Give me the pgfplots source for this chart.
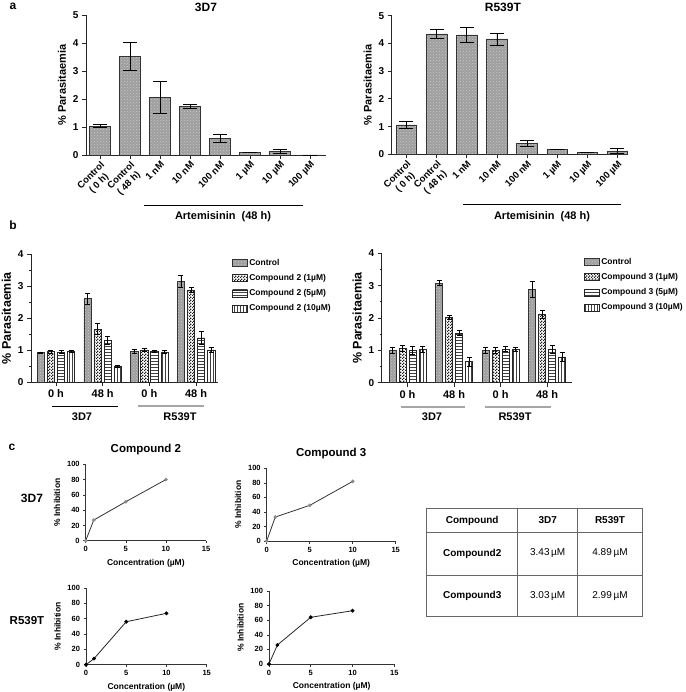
\documentclass[border=0pt]{standalone}
\usepackage{pgfplots}
\pgfplotsset{compat=1.18}
\usepackage{fontspec}
\setmainfont{Liberation Sans}
\usetikzlibrary{patterns}

\newcommand{\fs}[1]{\fontsize{#1}{#1}\selectfont}

\pgfdeclarepatternformonly{finecheck}{\pgfqpoint{0pt}{0pt}}{\pgfqpoint{3pt}{3pt}}{\pgfqpoint{3pt}{3pt}}{%
  \pgfpathrectangle{\pgfqpoint{0pt}{0pt}}{\pgfqpoint{1.5pt}{1.5pt}}%
  \pgfpathrectangle{\pgfqpoint{1.5pt}{1.5pt}}{\pgfqpoint{1.5pt}{1.5pt}}%
  \pgfusepath{fill}}

\pgfplotsset{
  panel/.style={
    scale only axis, anchor=south west, clip=false,
    axis lines=left,
    axis line style={-, black!85, line width=0.9pt},
    tick style={black!85, line width=0.8pt},
    major tick length=4pt, minor tick length=2pt,
    tick align=outside,
    /pgf/number format/assume math mode=true,
    ticklabel style={font=\bfseries\fs{10}},
    label style={font=\bfseries\fs{11}},
    title style={font=\bfseries\fs{12}, anchor=center, yshift=2pt},
  },
  rotlab/.style={
    xtick={0,...,7},
    xticklabels={{Control\\( 0 h)},{Control\\( 48 h)},1 nM,10 nM,100 nM,1 µM,10 µM,100 µM},
    xticklabel style={rotate=45, anchor=north east, align=center,
      font=\bfseries\fontsize{9.5}{11}\selectfont, inner sep=1pt},
  },
  errs/.style={
    error bars/y dir=both, error bars/y explicit,
    error bars/error bar style={black, line width=0.7pt},
    error bars/error mark options={rotate=90, black, line width=0.7pt, mark size=#1},
  },
  ctrl/.style={fill=black!38, draw=black!80, line width=0.6pt,
    postaction={pattern=crosshatch dots, pattern color=black!20}},
  cA/.style={draw=black!85, line width=0.6pt, pattern=finecheck, pattern color=black!90},
  cB/.style={draw=black!85, line width=0.6pt, pattern=horizontal lines, pattern color=black!75},
  cC/.style={draw=black!85, line width=0.6pt, pattern=vertical lines, pattern color=black!75},
  legb/.style={
    legend style={at={(#1)}, anchor=north west, draw=none, fill=none,
      inner sep=0pt, font=\bfseries\fs{8.5}, row sep=4.5pt, nodes={inner sep=1.5pt}},
    legend cell align=left,
    legend image code/.code={\draw[##1,/tikz/.cd] (0pt,-3.5pt) rectangle (15pt,3.5pt);},
  },
  curve/.style={
    scale only axis, anchor=south west, clip=false,
    axis lines=left, axis line style={-, black!80, line width=0.7pt},
    tick style={black!80, line width=0.6pt},
    major tick length=2.5pt, tick align=outside,
    /pgf/number format/assume math mode=true,
    ticklabel style={font=\bfseries\fs{7.5}},
    label style={font=\bfseries\fs{8.5}},
    title style={font=\bfseries\fs{11.5}},
    xmin=0, xmax=15, ymin=0, ymax=100,
    xtick={0,5,10,15}, ytick={0,20,...,100},
    xlabel={Concentration (µM)}, ylabel={\% Inhibition},
  },
}

\begin{document}
\begin{tikzpicture}
\path[use as bounding box] (0pt,0pt) rectangle (685pt,-692pt);

% ---------- panel a ----------
\begin{axis}[panel, rotlab, at={(86pt,-155pt)}, width=240pt, height=140pt,
  xmin=-0.47, xmax=7.53, ymin=0, ymax=5, ytick={0,...,5},
  ylabel={\% Parasitaemia}, title={3D7}]
\addplot[ybar, bar width=0.7, bar shift=0pt, ctrl, errs=7pt] coordinates {
  (0,1.03) +- (0,0.05) (1,3.51) +- (0,0.50) (2,2.05) +- (0,0.58) (3,1.73) +- (0,0.08)
  (4,0.60) +- (0,0.15) (5,0.10) +- (0,0.0) (6,0.14) +- (0,0.07) (7,0) +- (0,0)};
\end{axis}

\begin{axis}[panel, rotlab, at={(391.7pt,-154.3pt)}, width=236.3pt, height=138.6pt,
  xmin=-0.49, xmax=7.35, ymin=0, ymax=5, ytick={0,...,5},
  ylabel={\% Parasitaemia}, title={R539T}, title style={xshift=-7pt}]
\addplot[ybar, bar width=0.68, bar shift=0pt, ctrl, errs=7pt] coordinates {
  (0,1.06) +- (0,0.12) (1,4.34) +- (0,0.15) (2,4.31) +- (0,0.27) (3,4.16) +- (0,0.22)
  (4,0.40) +- (0,0.12) (5,0.18) +- (0,0.0) (6,0.08) +- (0,0.0) (7,0.12) +- (0,0.08)};
\end{axis}

\draw[black, line width=0.9pt] (144pt,-205pt) -- (303pt,-205pt);
\node[font=\bfseries\fs{11}] at (223pt,-217pt) {Artemisinin\ \ (48 h)};
\draw[black, line width=0.9pt] (463pt,-204pt) -- (621pt,-204pt);
\node[font=\bfseries\fs{11}] at (542pt,-217pt) {Artemisinin\ \ (48 h)};

% ---------- panel b ----------
% bars sit at group position +/- 0.108 and +/- 0.324 (0 h, 48 h, 0 h, 48 h = 0..3)
\begin{axis}[panel, legb={1.075,0.975}, at={(31pt,-382.3pt)}, width=187pt, height=128pt,
  xmin=-0.535, xmax=3.47, ymin=0, ymax=4, ytick={0,...,4}, minor y tick num=1,
  xtick={0,...,3}, xticklabels={0 h,48 h,0 h,48 h},
  xticklabel style={font=\bfseries\fs{11}},
  ylabel={\% Parasitaemia}, ylabel style={font=\bfseries\fs{12.5}}]
\addplot[ybar, bar width=0.156, bar shift=0pt, ctrl, errs=2.5pt] coordinates {
  (-0.324,0.93) +- (0,0.02) (0.676,2.61) +- (0,0.17) (1.676,0.97) +- (0,0.06) (2.676,3.15) +- (0,0.18)};
\addplot[ybar, bar width=0.156, bar shift=0pt, cA, errs=2.5pt] coordinates {
  (-0.108,0.96) +- (0,0.04) (0.892,1.66) +- (0,0.17) (1.892,1.01) +- (0,0.04) (2.892,2.89) +- (0,0.08)};
\addplot[ybar, bar width=0.156, bar shift=0pt, cB, errs=2.5pt] coordinates {
  (0.108,0.95) +- (0,0.06) (1.108,1.31) +- (0,0.12) (2.108,0.97) +- (0,0.02) (3.108,1.39) +- (0,0.20)};
\addplot[ybar, bar width=0.156, bar shift=0pt, cC, errs=2.5pt] coordinates {
  (0.324,0.97) +- (0,0.03) (1.324,0.50) +- (0,0.03) (2.324,0.95) +- (0,0.04) (3.324,1.01) +- (0,0.07)};
\legend{Control, Compound 2 (1µM), Compound 2 (5µM), Compound 2 (10µM)}
\end{axis}

\begin{axis}[panel, legb={1.065,0.975}, at={(381.7pt,-382.7pt)}, width=190pt, height=129.4pt,
  xmin=-0.555, xmax=3.53, ymin=0, ymax=4, ytick={0,...,4}, minor y tick num=1,
  xtick={0,...,3}, xticklabels={0 h,48 h,0 h,48 h},
  xticklabel style={font=\bfseries\fs{11}},
  ylabel={\% Parasitaemia}, ylabel style={font=\bfseries\fs{12.5}}]
\addplot[ybar, bar width=0.15, bar shift=0pt, ctrl, errs=2.5pt] coordinates {
  (-0.323,1.00) +- (0,0.08) (0.677,3.08) +- (0,0.08) (1.677,1.00) +- (0,0.08) (2.677,2.88) +- (0,0.24)};
\addplot[ybar, bar width=0.15, bar shift=0pt, cA, errs=2.5pt] coordinates {
  (-0.108,1.06) +- (0,0.08) (0.892,2.01) +- (0,0.06) (1.892,1.00) +- (0,0.08) (2.892,2.11) +- (0,0.13)};
\addplot[ybar, bar width=0.15, bar shift=0pt, cB, errs=2.5pt] coordinates {
  (0.108,1.00) +- (0,0.11) (1.108,1.54) +- (0,0.07) (2.108,1.04) +- (0,0.07) (3.108,1.04) +- (0,0.13)};
\addplot[ybar, bar width=0.15, bar shift=0pt, cC, errs=2.5pt] coordinates {
  (0.323,1.03) +- (0,0.08) (1.323,0.65) +- (0,0.13) (2.323,1.03) +- (0,0.06) (3.323,0.80) +- (0,0.13)};
\legend{Control, Compound 3 (1µM), Compound 3 (5µM), Compound 3 (10µM)}
\end{axis}

\draw[black, line width=0.9pt] (52pt,-406pt) -- (118pt,-406pt);
\draw[black!35, line width=1.2pt] (138pt,-406pt) -- (204pt,-406pt);
\draw[black!35, line width=1.2pt] (401pt,-407pt) -- (465pt,-407pt);
\draw[black!35, line width=1.2pt] (485pt,-407pt) -- (551pt,-407pt);
\node[font=\bfseries\fs{11}] at (82pt,-417pt) {3D7};
\node[font=\bfseries\fs{11}] at (180pt,-417pt) {R539T};
\node[font=\bfseries\fs{11}] at (432pt,-417pt) {3D7};
\node[font=\bfseries\fs{11}] at (515pt,-417pt) {R539T};

% ---------- panel c ----------
\begin{axis}[curve, at={(85.7pt,-540.7pt)}, width=120.3pt, height=76.4pt, title={Compound 2}]
\addplot[black!80, line width=0.8pt, mark=*, mark size=1.4pt, mark options={fill=black!45, draw=black!45}]
  coordinates {(0,0) (1,27) (5,51) (10,80)};
\end{axis}
\begin{axis}[curve, at={(266.7pt,-541pt)}, width=129pt, height=72.7pt, title={Compound 3}]
\addplot[black!80, line width=0.8pt, mark=*, mark size=1.4pt, mark options={fill=black!45, draw=black!45}]
  coordinates {(0,0) (1,33) (5,49) (10,82)};
\end{axis}
\begin{axis}[curve, at={(86pt,-664.7pt)}, width=120.7pt, height=76.7pt]
\addplot[black!85, line width=0.8pt, mark=*, mark size=1.5pt, mark options={fill=black, draw=black}]
  coordinates {(0,0) (1,8) (5,56) (10,67)};
\end{axis}
\begin{axis}[curve, at={(269pt,-664pt)}, width=125.3pt, height=73pt]
\addplot[black!85, line width=0.8pt, mark=*, mark size=1.5pt, mark options={fill=black, draw=black}]
  coordinates {(0,0) (1,26) (5,64) (10,73)};
\end{axis}

\node[font=\bfseries\fs{12}] at (32pt,-498pt) {3D7};
\node[font=\bfseries\fs{11.5}] at (27pt,-621pt) {R539T};

% panel letters
\node[font=\bfseries\fs{12}] at (13pt,-6pt) {a};
\node[font=\bfseries\fs{12}] at (13pt,-225pt) {b};
\node[font=\bfseries\fs{12}] at (12pt,-447pt) {c};

% ---------- table ----------
\begin{scope}[draw=black!60, line width=0.7pt]
\draw (426.7pt,-508.7pt) rectangle (642.3pt,-616.7pt);
\draw (426.7pt,-532.3pt) -- (642.3pt,-532.3pt);
\draw (426.7pt,-575pt) -- (642.3pt,-575pt);
\draw (517.7pt,-508.7pt) -- (517.7pt,-616.7pt);
\draw (577.7pt,-508.7pt) -- (577.7pt,-616.7pt);
\end{scope}
\begin{scope}[every node/.style={font=\fs{10}}]
\node[font=\bfseries\fs{10}] at (472.2pt,-520.5pt) {Compound};
\node[font=\bfseries\fs{10}] at (547.7pt,-520.5pt) {3D7};
\node[font=\bfseries\fs{10}] at (610pt,-520.5pt) {R539T};
\node[font=\bfseries\fs{10}] at (472.2pt,-553.5pt) {Compound2};
\node at (547.7pt,-553.5pt) {3.43\,µM};
\node at (610pt,-553.5pt) {4.89\,µM};
\node[font=\bfseries\fs{10}] at (472.2pt,-596pt) {Compound3};
\node at (547.7pt,-596pt) {3.03\,µM};
\node at (610pt,-596pt) {2.99\,µM};
\end{scope}
\end{tikzpicture}
\end{document}
